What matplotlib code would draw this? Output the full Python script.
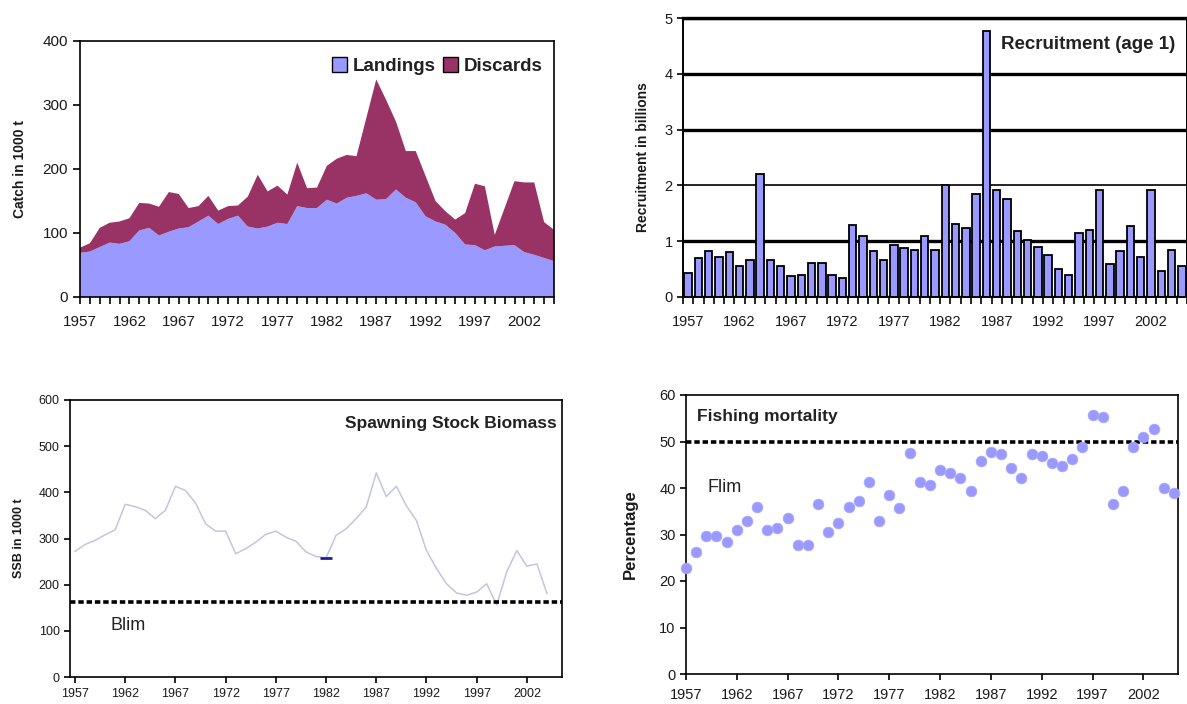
import numpy as np
import matplotlib
matplotlib.use("Agg")
import matplotlib.pyplot as plt
from matplotlib.patches import Patch

plt.rcParams['font.family'] = ['Liberation Sans', 'DejaVu Sans']

years = np.arange(1957, 2006)
ssb_years = np.arange(1957, 2005)
label_years = np.arange(1957, 2003, 5)

# catch (1000 t)
landings = [69, 71, 78, 85, 83, 87, 104, 108, 96, 102,
            107, 109, 118, 127, 114, 122, 127, 110, 107, 110,
            116, 114, 142, 139, 139, 152, 146, 155, 158, 162,
            152, 153, 168, 155, 148, 126, 118, 113, 100, 82,
            81, 73, 79, 80, 81, 70, 66, 61, 56]
discards = [8, 13, 30, 31, 35, 36, 43, 38, 45, 62,
            54, 30, 24, 31, 21, 20, 16, 47, 84, 55,
            58, 46, 68, 31, 32, 53, 70, 67, 62, 118,
            188, 155, 106, 73, 80, 63, 32, 21, 21, 49,
            96, 100, 18, 59, 100, 109, 113, 56, 49]

# recruitment age 1 (billions)
recruits = [0.43, 0.69, 0.82, 0.72, 0.81, 0.56, 0.66, 2.21, 0.66, 0.56,
            0.37, 0.40, 0.61, 0.61, 0.40, 0.34, 1.29, 1.10, 0.82, 0.66,
            0.93, 0.88, 0.85, 1.10, 0.85, 2.01, 1.30, 1.23, 1.85, 4.77,
            1.91, 1.75, 1.18, 1.02, 0.89, 0.75, 0.50, 0.40, 1.14, 1.20,
            1.91, 0.59, 0.82, 1.27, 0.72, 1.91, 0.46, 0.85, 0.56]

# spawning stock biomass (1000 t), 1957-2004
ssb = [272, 287, 296, 308, 319, 374, 369, 361, 343, 361,
       413, 404, 377, 332, 316, 316, 267, 278, 292, 309,
       316, 303, 294, 271, 261, 258, 307, 321, 343, 368,
       442, 391, 413, 371, 339, 274, 235, 202, 182, 177,
       184, 202, 156, 228, 274, 240, 245, 181]
ssb_mark_year = 1982
blim = 163

# fishing mortality (%)
fmort = [22.7, 26.3, 29.7, 29.7, 28.3, 31.0, 33.0, 36.0, 31.0, 31.5,
         33.6, 27.7, 27.7, 36.6, 30.5, 32.5, 36.0, 37.1, 41.2, 33.0,
         38.4, 35.8, 47.5, 41.2, 40.6, 43.9, 43.3, 42.1, 39.4, 45.9,
         47.7, 47.3, 44.4, 42.1, 47.3, 46.9, 45.3, 44.7, 46.2, 48.8,
         55.6, 55.3, 36.6, 39.4, 48.8, 50.9, 52.7, 40.1, 38.9]
flim = 50

land_col = '#9999ff'
disc_col = '#993366'
txt = '#1a1a1a'
W, H = 1187, 704


def box(l, t, r, b):
    return [l / W, 1 - b / H, (r - l) / W, (b - t) / H]


fig = plt.figure(figsize=(W / 100, H / 100), dpi=100)

# --- catch ---
ax1 = fig.add_axes(box(80, 41, 554, 297))
ax1.stackplot(years, landings, discards, colors=[land_col, disc_col], lw=0.4,
              edgecolor='none')
ax1.set_xlim(1957, 2005)
ax1.set_ylim(0, 400)
ax1.set_yticks(range(0, 401, 100))
ax1.set_xticks(label_years)
ax1.set_xticks(years, minor=True)
ax1.tick_params(axis='both', which='both', direction='out', length=5, width=1.2,
                labelsize=11, labelcolor=txt)
ax1.tick_params(axis='x', pad=8)
ax1.set_ylabel('Catch in 1000 t', fontsize=10, fontweight='bold', color=txt)
ax1.yaxis.set_label_coords(-0.112, 0.5)
handles = [Patch(facecolor=land_col, edgecolor='black', lw=1),
           Patch(facecolor=disc_col, edgecolor='black', lw=1)]
leg = ax1.legend(handles, ['Landings', 'Discards'], loc='upper right', ncol=2,
                 frameon=False, fontsize=13.5, handlelength=0.8, handleheight=0.8,
                 handletextpad=0.3, columnspacing=0.4, borderaxespad=0.2,
                 bbox_to_anchor=(1.0, 0.98))
for t in leg.get_texts():
    t.set_fontweight('bold')
    t.set_color('#222222')
for s in ax1.spines.values():
    s.set_linewidth(1.2)

# --- recruitment ---
ax2 = fig.add_axes(box(683, 18, 1187, 297))
ax2.set_axisbelow(True)
ax2.bar(years, recruits, width=0.72, color=land_col, edgecolor='black', lw=1.3)
ax2.set_xlim(1956.5, 2005.5)
ax2.set_ylim(0, 5)
ax2.set_yticks(range(0, 6))
ax2.grid(axis='y', color='black', lw=2.4)
ax2.get_ygridlines()[2].set_linewidth(1.2)
ax2.set_xticks(label_years)
ax2.set_xticks(np.arange(1956.5, 2006, 1), minor=True)
ax2.tick_params(axis='x', which='major', length=0, pad=13, labelsize=10.5,
                labelcolor=txt)
ax2.tick_params(axis='x', which='minor', length=5, width=1.2, direction='out')
ax2.tick_params(axis='y', length=4, width=1.2, labelsize=10.5, labelcolor=txt)
ax2.text(2004.4, 4.52, 'Recruitment (age 1)', ha='right', va='center',
         fontsize=13.5, fontweight='bold', color='#222222')
ax2.set_ylabel('Recruitment in billions', fontsize=10, fontweight='bold', color=txt)
ax2.yaxis.set_label_coords(-0.066, 0.5)
ax2.spines['top'].set_linewidth(2.4)
for k in ['left', 'bottom', 'right']:
    ax2.spines[k].set_linewidth(1.4)

# --- SSB ---
ax3 = fig.add_axes(box(70, 400, 562, 677))
ax3.plot(ssb_years, ssb, color='#c4c4e0', lw=1.1)
ax3.plot([ssb_mark_year], [ssb[ssb_mark_year - 1957]], marker='_', ms=9,
         mew=2, color='#1f1fa0', ls='none')
ax3.axhline(blim, color='black', lw=2.6, dashes=(1.5, 0.8))
ax3.set_xlim(1956.5, 2005.5)
ax3.set_ylim(0, 600)
ax3.set_yticks(range(0, 601, 100))
ax3.set_xticks(label_years)
ax3.tick_params(axis='both', direction='out', length=4, width=1.2, labelsize=9,
                labelcolor=txt)
ax3.tick_params(axis='x', pad=4)
ax3.text(1960.5, 112, 'Blim', ha='left', va='center', fontsize=13, color='#222222')
ax3.text(2005.0, 549, 'Spawning Stock Biomass', ha='right', va='center',
         fontsize=12.5, fontweight='bold', color='#222222')
ax3.set_ylabel('SSB in 1000 t', fontsize=9, fontweight='bold', color=txt)
ax3.yaxis.set_label_coords(-0.091, 0.5)
for s in ax3.spines.values():
    s.set_linewidth(1.2)

# --- fishing mortality ---
ax4 = fig.add_axes(box(686, 395, 1178, 674))
ax4.scatter(years, fmort, s=60, color=land_col, edgecolor='#aaaaff', lw=0.5,
            zorder=3, clip_on=False)
ax4.axhline(flim, color='black', lw=2.6, dashes=(1.5, 0.8))
ax4.set_xlim(1957, 2005.4)
ax4.set_ylim(0, 60)
ax4.set_yticks(range(0, 61, 10))
ax4.set_xticks(label_years)
ax4.tick_params(axis='both', direction='out', length=4, width=1.2, labelsize=10.5,
                labelcolor=txt)
ax4.tick_params(axis='x', pad=6)
ax4.text(1959.1, 40.2, 'Flim', ha='left', va='center', fontsize=13, color='#222222')
ax4.text(1958.1, 55.3, 'Fishing mortality', ha='left', va='center',
         fontsize=12.5, fontweight='bold', color='#222222')
ax4.set_ylabel('Percentage', fontsize=12, fontweight='bold', color=txt)
ax4.yaxis.set_label_coords(-0.098, 0.5)
for s in ax4.spines.values():
    s.set_linewidth(1.2)

fig.savefig('out.png', dpi=100)
